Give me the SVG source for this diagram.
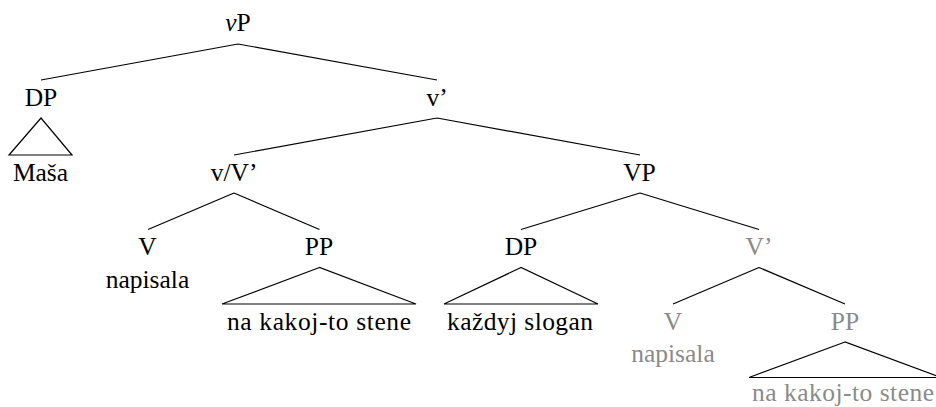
<svg xmlns="http://www.w3.org/2000/svg" width="936" height="407" viewBox="0 0 936 407">
<style>
text{font-family:"Liberation Serif","DejaVu Serif",serif;font-size:25.5px;text-anchor:middle;fill:#000}
.g{fill:#8a8a8a}
.e{stroke:#000;stroke-width:1.2;fill:none}
</style>
<rect width="936" height="407" fill="#fff"/>
<g id="connectors">
<path class="e" d="M238,44 L41,80 M238,44 L437,80"/>
<path class="e" d="M41,118 L9,155 L72,155 Z"/>
<path class="e" d="M437,118 L234,155 M437,118 L640,155"/>
<path class="e" d="M234,193 L148,229.5 M234,193 L319.5,229.5"/>
<path class="e" d="M319.5,267.5 L222,304 L416,304 Z"/>
<path class="e" d="M640,193 L521,229.5 M640,193 L759,229.5"/>
<path class="e" d="M521,267.5 L444,304 L598,304 Z"/>
<path class="e" d="M759,267.5 L673,304 M759,267.5 L845,304"/>
<path class="e" d="M845,342 L749,377.5 L941,377.5 Z"/>
</g>
<g id="vP"><text x="238" y="31"><tspan font-style="italic">v</tspan>P</text></g>
<g id="DP1"><text x="41" y="106">DP</text></g>
<g id="Masa"><text x="40.5" y="181">Maša</text></g>
<g id="vbar"><text x="437" y="106">v’</text></g>
<g id="vVbar"><text x="234" y="181">v/V’</text></g>
<g id="VP"><text x="639.5" y="181">VP</text></g>
<g id="V1"><text x="147.5" y="255">V</text></g>
<g id="napisala1"><text x="147.5" y="288">napisala</text></g>
<g id="PP1"><text x="319" y="255">PP</text></g>
<g id="stene1"><text x="319" y="330" textLength="184">na kakoj-to stene</text></g>
<g id="DP2"><text x="521" y="255">DP</text></g>
<g id="slogan"><text x="520" y="330" textLength="146">každyj slogan</text></g>
<g id="Vbar2"><text class="g" x="759" y="255">V’</text></g>
<g id="V2"><text class="g" x="673" y="330">V</text></g>
<g id="napisala2"><text class="g" x="673" y="362">napisala</text></g>
<g id="PP2"><text class="g" x="845" y="330">PP</text></g>
<g id="stene2"><text class="g" x="843" y="401" textLength="182">na kakoj-to stene</text></g>
</svg>
